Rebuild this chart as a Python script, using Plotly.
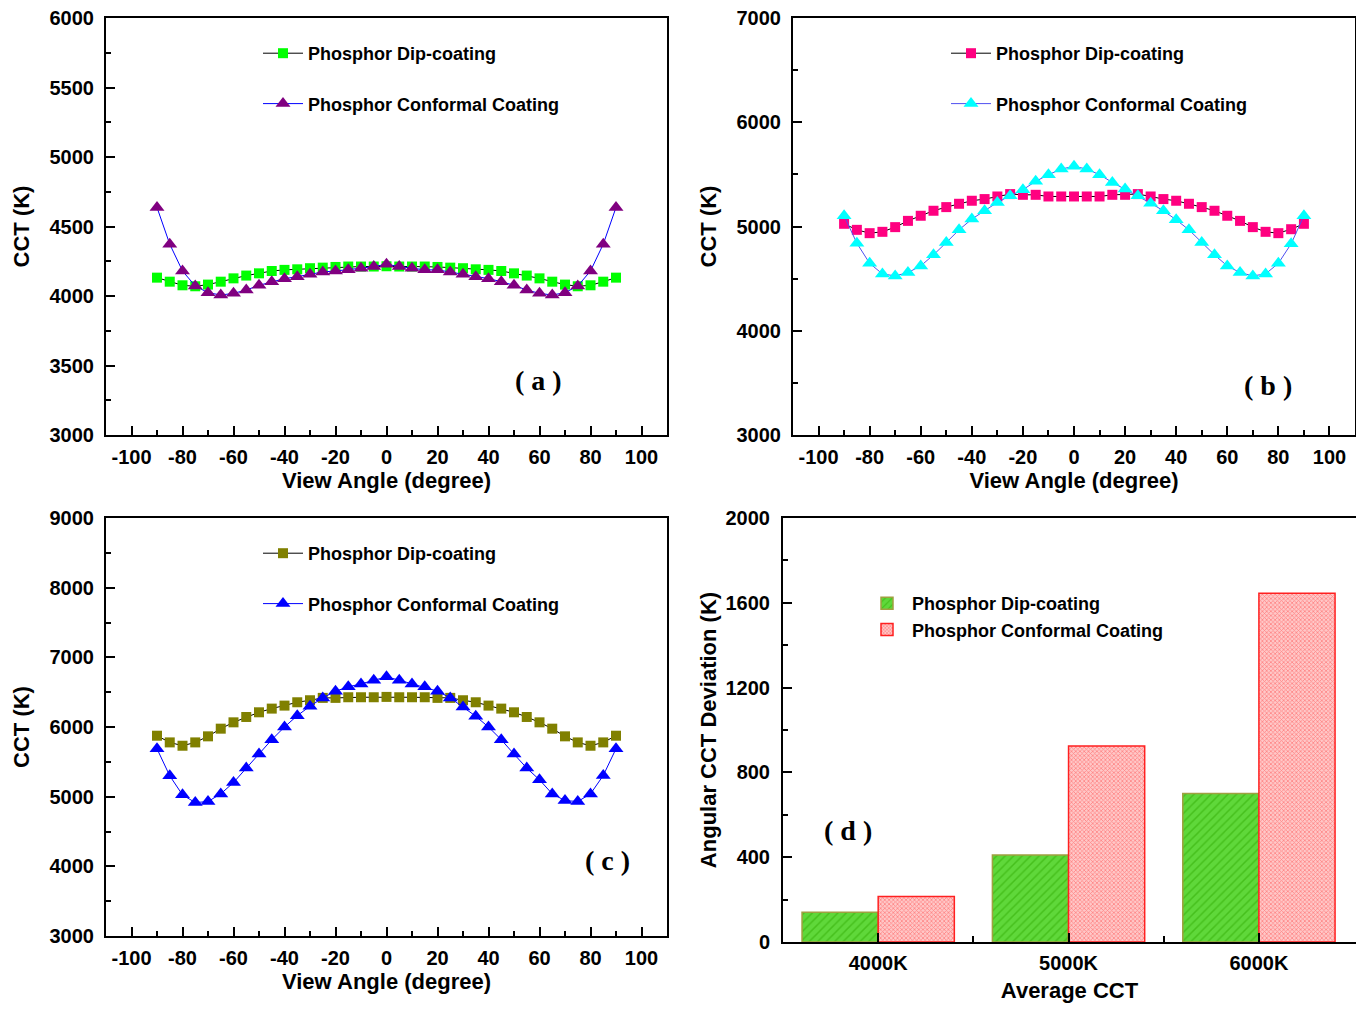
import plotly.graph_objects as go

# page is rendered with the browser's 8px body margin -> the figure is placed at (8, 8)
OFF = 8
FW, FH = 1348, 995

# ---------------- data ----------------
angles = list(range(-90, 95, 5))
angle_ticks = [-100, -80, -60, -40, -20, 0, 20, 40, 60, 80, 100]
angle_ticklabels = ["-100", "-80", "-60", "-40", "-20", "0", "20", "40", "60", "80", "100"]

a_dip = [4132, 4103, 4077, 4070, 4082, 4103, 4127, 4147, 4163, 4180, 4188, 4192, 4200, 4204, 4209, 4212, 4212, 4212, 4214,
         4212, 4212, 4212, 4209, 4204, 4200, 4192, 4188, 4180, 4163, 4147, 4127, 4103, 4082, 4070, 4077, 4103, 4132]
a_conf = [4637, 4373, 4180, 4072, 4024, 4007, 4019, 4043, 4077, 4103, 4125, 4139, 4156, 4173, 4180, 4188, 4200, 4212, 4228,
          4212, 4200, 4188, 4188, 4173, 4156, 4139, 4125, 4103, 4077, 4043, 4019, 4007, 4024, 4072, 4180, 4373, 4637]

b_dip = [5026, 4968, 4936, 4949, 4994, 5054, 5103, 5151, 5186, 5218, 5247, 5263, 5288, 5311, 5304, 5304, 5288, 5288, 5288,
         5288, 5288, 5304, 5304, 5311, 5288, 5263, 5247, 5218, 5186, 5151, 5103, 5054, 4994, 4949, 4936, 4974, 5026]
b_conf = [5103, 4840, 4647, 4545, 4526, 4558, 4622, 4728, 4846, 4968, 5071, 5151, 5231, 5295, 5353, 5433, 5497, 5551, 5577,
          5551, 5497, 5423, 5359, 5295, 5224, 5151, 5064, 4968, 4846, 4728, 4622, 4558, 4526, 4545, 4647, 4834, 5103]

c_dip = [5875, 5779, 5731, 5779, 5866, 5976, 6067, 6144, 6211, 6264, 6307, 6355, 6384, 6418, 6418, 6427, 6427, 6427, 6432,
         6427, 6427, 6427, 6418, 6418, 6384, 6355, 6307, 6264, 6211, 6144, 6067, 5976, 5866, 5779, 5731, 5779, 5875]
c_conf = [5688, 5299, 5026, 4915, 4930, 5040, 5203, 5410, 5611, 5818, 6000, 6163, 6298, 6418, 6514, 6576, 6619, 6672, 6720,
          6672, 6619, 6576, 6514, 6418, 6288, 6154, 6000, 5818, 5611, 5410, 5242, 5040, 4944, 4930, 5040, 5304, 5688]

d_categories = ["4000K", "5000K", "6000K"]
d_dip = [140, 410, 700]
d_conf = [215, 925, 1645]

name_dip = "Phosphor Dip-coating"
name_conf = "Phosphor Conformal Coating"

# ---------------- helpers ----------------
FONT = "Liberation Sans, Arial, sans-serif"


def px(x):
    return min(1.0, max(0.0, (x - OFF) / FW))


def py(y):
    return min(1.0, max(0.0, 1 - (y - OFF) / FH))


def axis_style(**kw):
    d = dict(
        showline=True, mirror=True, linecolor="black", linewidth=2,
        ticks="inside", ticklen=9, tickwidth=2, tickcolor="black",
        showgrid=False, zeroline=False, automargin=False, ticklabeloverflow="allow",
        tickfont=dict(family=FONT, size=20, color="black", weight="bold"),
        title_font=dict(family=FONT, size=22, color="black", weight="bold"),
    )
    d.update(kw)
    return d


fig = go.Figure()

panels = [
    ("x", "y", "legend", a_dip, a_conf, "#00FF00", "#800080", "#0000FF"),
    ("x2", "y2", "legend2", b_dip, b_conf, "#FF0080", "#00FFFF", "#5050F0"),
    ("x3", "y3", "legend3", c_dip, c_conf, "#808000", "#0000FF", "#0000FF"),
]

for i, (xa, ya, lg, dip, conf, dcol, ccol, cline) in enumerate(panels):
    fig.add_trace(go.Scatter(
        x=angles, y=dip, name=name_dip, mode="lines+markers",
        xaxis=xa, yaxis=ya, legend=lg, legendgroup=f"d{i}",
        line=dict(color="black", width=1),
        marker=dict(symbol="square", size=10, color=dcol, line=dict(width=0)),
    ))
    fig.add_trace(go.Scatter(
        x=angles, y=conf, name=name_conf, mode="lines+markers",
        xaxis=xa, yaxis=ya, legend=lg, legendgroup=f"c{i}",
        line=dict(color=cline, width=1),
        marker=dict(symbol="triangle-up", size=13, color=ccol, line=dict(width=0)),
    ))

fig.add_trace(go.Bar(
    x=[0, 1, 2], y=d_dip, name=name_dip, xaxis="x4", yaxis="y4", legend="legend4",
    marker=dict(color="#5FD83A", line=dict(color="#A0A040", width=1.5),
                pattern=dict(shape="/", fgcolor="#2EA800", size=6, solidity=0.25, fillmode="overlay")),
))
fig.add_trace(go.Bar(
    x=[0, 1, 2], y=d_conf, name=name_conf, xaxis="x4", yaxis="y4", legend="legend4",
    marker=dict(color="#FFC8C8", line=dict(color="#FF2020", width=1.5),
                pattern=dict(shape="x", fgcolor="#FF4040", size=3, solidity=0.45, fillmode="overlay")),
))

minor_x = dict(tickvals=list(range(-90, 100, 20)), ticks="inside", ticklen=5, tickwidth=2, tickcolor="black")
angle_axis = dict(range=[-110, 110], tickmode="array", tickvals=angle_ticks, ticktext=angle_ticklabels,
                  ticklabelstandoff=3, minor=minor_x,
                  title=dict(text="View Angle (degree)", standoff=5))


def minor_y(dt):
    return dict(dtick=dt, ticks="inside", ticklen=5, tickwidth=2, tickcolor="black")


fig.update_layout(
    template="none",
    width=FW, height=FH,
    margin=dict(l=0, r=0, t=0, b=0, pad=0),
    paper_bgcolor="white", plot_bgcolor="white",
    barmode="group", bargap=0.2, bargroupgap=0,
    xaxis=axis_style(domain=[px(106), px(667)], anchor="y", **angle_axis),
    yaxis=axis_style(domain=[py(435), py(18)], anchor="x", range=[3000, 6000], dtick=500,
                     minor=minor_y(250), ticklabelstandoff=6,
                     title=dict(text="CCT (K)", standoff=14)),
    xaxis2=axis_style(domain=[px(793), px(1355)], anchor="y2", **angle_axis),
    yaxis2=axis_style(domain=[py(435), py(18)], anchor="x2", range=[3000, 7000], dtick=1000,
                      minor=minor_y(500), ticklabelstandoff=6,
                      title=dict(text="CCT (K)", standoff=14)),
    xaxis3=axis_style(domain=[px(106), px(667)], anchor="y3", **angle_axis),
    yaxis3=axis_style(domain=[py(936), py(518)], anchor="x3", range=[3000, 9000], dtick=1000,
                      minor=minor_y(500), ticklabelstandoff=6,
                      title=dict(text="CCT (K)", standoff=14)),
    xaxis4=axis_style(domain=[px(783), px(1356)], anchor="y4", range=[-0.5, 2.51],
                      tickmode="array", tickvals=[0, 1, 2], ticktext=d_categories, ticklabelstandoff=2,
                      minor=dict(tickvals=[0.5, 1.5], ticks="inside", ticklen=6, tickwidth=2, tickcolor="black"),
                      title=dict(text="Average CCT", standoff=14)),
    yaxis4=axis_style(domain=[py(942), py(518)], anchor="x4", range=[0, 2000], dtick=400,
                      minor=minor_y(200), ticklabelstandoff=7,
                      title=dict(text="Angular CCT Deviation (K)", standoff=3)),
    showlegend=True,
)

leg_common = dict(font=dict(family=FONT, size=18, color="black", weight="bold"),
                  bgcolor="rgba(0,0,0,0)", borderwidth=0, xanchor="left", yanchor="top",
                  tracegroupgap=24, itemwidth=40)
fig.update_layout(
    legend=dict(x=px(258), y=py(35), **leg_common),
    legend2=dict(x=px(946), y=py(35), **leg_common),
    legend3=dict(x=px(258), y=py(535), **leg_common),
    legend4=dict(x=px(862), y=py(585),
                 font=dict(family=FONT, size=18, color="black", weight="bold"),
                 bgcolor="rgba(0,0,0,0)", borderwidth=0, xanchor="left", yanchor="top",
                 tracegroupgap=0, itemwidth=40),
)

labels = [("( a )", 538, 380), ("( b )", 1268, 385), ("( c )", 607, 860), ("( d )", 848, 830)]
for txt, xp, yp in labels:
    fig.add_annotation(text=txt, x=px(xp), y=py(yp), xref="paper", yref="paper",
                       showarrow=False, xanchor="center", yanchor="middle",
                       font=dict(family="Liberation Serif, Times New Roman, serif", size=28,
                                 color="black", weight="bold"))

fig.write_html("out.html")
